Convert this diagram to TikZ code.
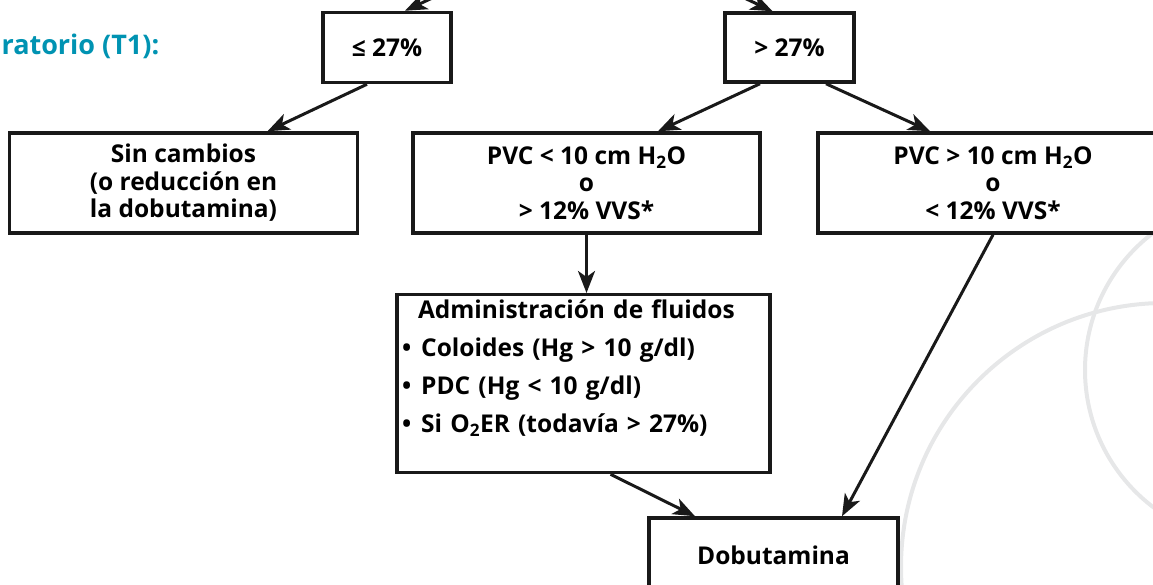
\documentclass[tikz,border=0pt]{standalone}
\usepackage{fontspec}
\setmainfont{Open Sans}
\usetikzlibrary{arrows.meta}
\definecolor{azultitulo}{RGB}{0,147,178}
\definecolor{grisarco}{RGB}{230,231,232}
\begin{document}
\begin{tikzpicture}[x=1pt,y=1pt,
    caja/.style={draw=black!90, fill=white, line width=3.5pt, align=center, inner sep=0pt,
        font=\fontsize{24.5}{27.5}\selectfont\bfseries},
    flecha/.style={draw=black!90, line width=3pt, -{Stealth[length=22pt,width=17pt,inset=6pt]}},
    arco/.style={draw=grisarco, line width=4pt}]
    \useasboundingbox (0,0) rectangle (1153,585);
    \clip (0,0) rectangle (1153,585);

    % fondo
    \path[arco] (1257,215) circle (172);
    \path[arco] (1165,18) circle (264);

    \node[anchor=base west, text=azultitulo, font=\fontsize{27}{32}\selectfont\bfseries] (titulo) at (-2,530) {ratorio (T1):};

    \node[caja, minimum width=128pt, minimum height=70pt] (menor) at (387,537.5) {≤ 27\%};
    \node[caja, minimum width=129pt, minimum height=69pt] (mayor) at (789.5,537.5) {> 27\%};

    \node[caja, minimum width=348pt, minimum height=100pt] (sincambios) at (183.5,402) {Sin cambios\\(o reducción en\\la dobutamina)};
    \node[caja, minimum width=347pt, minimum height=100pt] (pvcbajo) at (586.5,402) {PVC < 10 cm H\textsubscript{2}O\\o\\> 12\% VVS*};
    \node[caja, minimum width=350pt, minimum height=100pt] (pvcalto) at (993,402) {PVC > 10 cm H\textsubscript{2}O\\o\\< 12\% VVS*};

    \node[caja, align=left, text width=363pt, inner xsep=5pt, inner ysep=5pt, text depth=149pt,
        font=\fontsize{24.5}{38}\selectfont\bfseries, anchor=north] (fluidos) at (583.5,292) {\hspace*{16pt}Administración de fluidos\\
        •\hspace{10pt}Coloides (Hg > 10 g/dl)\\
        •\hspace{10pt}PDC (Hg < 10 g/dl)\\
        •\hspace{10pt}Si O\textsubscript{2}ER (todavía > 27\%)};

    \node[caja, minimum width=249pt, minimum height=74pt] (dobutamina) at (773.5,30) {Dobutamina};

    \coordinate (entradaizq) at (471,605);
    \coordinate (entradader) at (706,605);

    \path[flecha] (entradaizq) -- ([xshift=18pt]menor.north);
    \path[flecha] (entradader) -- ([xshift=-17pt]mayor.north);
    \path[flecha] ([xshift=-20pt]menor.south) -- ([xshift=84pt]sincambios.north);
    \path[flecha] ([xshift=-29.5pt]mayor.south) -- ([xshift=71.5pt]pvcbajo.north);
    \path[flecha] ([xshift=36.5pt]mayor.south) -- ([xshift=-63pt]pvcalto.north);
    \path[flecha] (pvcbajo.south) -- (pvcbajo.south |- fluidos.north);
    \path[flecha] (pvcalto.south) -- ([xshift=68.5pt]dobutamina.north);
    \path[flecha] ([xshift=27pt]fluidos.south) -- ([xshift=-78.5pt]dobutamina.north);
\end{tikzpicture}
\end{document}
